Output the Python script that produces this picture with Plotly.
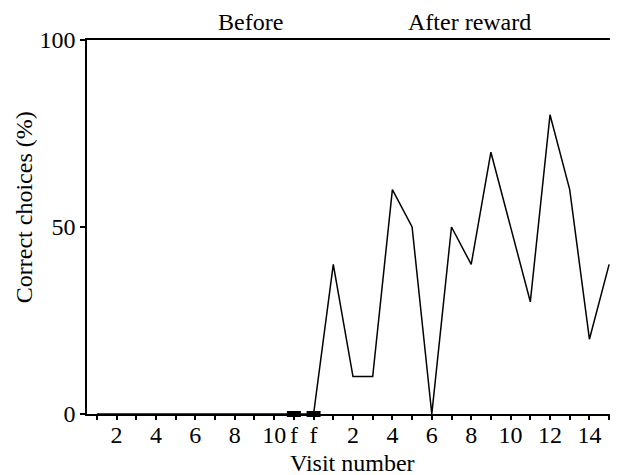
import plotly.graph_objects as go

# ---- data ----
tick_labels = ["", "2", "", "4", "", "6", "", "8", "", "10",
               "f", "f",
               "", "2", "", "4", "", "6", "", "8", "", "10", "", "12", "", "14", ""]
before_values = [0, 0, 0, 0, 0, 0, 0, 0, 0, 0]
f_values = [0, 0]
after_values = [40, 10, 10, 60, 50, 0, 50, 40, 70, 50, 30, 80, 60, 20, 40]

all_values = before_values + f_values + after_values
positions = list(range(1, len(all_values) + 1))
f_positions = positions[len(before_values):len(before_values) + len(f_values)]

FONT = "Liberation Serif, Times New Roman, serif"
FS = 24

fig = go.Figure()
fig.add_trace(go.Scatter(
    x=positions, y=all_values, mode="lines",
    line=dict(color="black", width=1.5),
    showlegend=False, hoverinfo="skip", cliponaxis=False,
))
fig.add_trace(go.Scatter(
    x=f_positions, y=f_values, mode="markers",
    marker=dict(symbol="line-ew", size=10, color="black",
                line=dict(color="black", width=6)),
    showlegend=False, hoverinfo="skip", cliponaxis=False,
))

# page body has an 8px default margin, so the figure is 8px smaller
fig.update_layout(
    width=610, height=467,
    margin=dict(l=79, r=1, t=32, b=61, autoexpand=False),
    paper_bgcolor="white", plot_bgcolor="white",
    font=dict(family=FONT, size=FS, color="black"),
    xaxis=dict(
        range=[0.5, 27.4], automargin=False,
        tickmode="array", tickvals=positions, ticktext=tick_labels,
        ticks="outside", ticklen=4, tickwidth=1.5, tickcolor="black",
        ticklabelstandoff=-6,
        showline=True, linecolor="black", linewidth=1.5, mirror=True,
        showgrid=False, zeroline=False,
        tickfont=dict(family=FONT, size=FS, color="black"),
    ),
    yaxis=dict(
        range=[0, 100], automargin=False,
        tickmode="array", tickvals=[0, 50, 100], ticktext=["0", "50", "100"],
        ticks="outside", ticklen=5, tickwidth=1.5, tickcolor="black",
        showline=True, linecolor="black", linewidth=1.5, mirror=False,
        showgrid=False, zeroline=False,
        tickfont=dict(family=FONT, size=FS, color="black"),
    ),
    shapes=[dict(type="line", xref="paper", yref="paper", x0=1, x1=1, y0=0, y1=1,
                 line=dict(color="#888888", width=1))],
    annotations=[
        dict(text="Before", xref="x", yref="paper", x=8.8, y=1.0, yshift=18,
             xanchor="center", yanchor="middle",
             showarrow=False, font=dict(family=FONT, size=FS, color="black")),
        dict(text="After reward", xref="x", yref="paper", x=19.9, y=1.0, yshift=18,
             xanchor="center", yanchor="middle",
             showarrow=False, font=dict(family=FONT, size=FS, color="black")),
        dict(text="Visit number", xref="paper", yref="paper", x=0.5, y=0,
             yshift=-49, xanchor="center", yanchor="middle",
             showarrow=False, font=dict(family=FONT, size=FS, color="black")),
        dict(text="Correct choices (%)", xref="paper", yref="paper",
             x=0, xshift=-63, y=0.553, xanchor="center", yanchor="middle",
             textangle=-90, showarrow=False,
             font=dict(family=FONT, size=FS, color="black")),
    ],
)

fig.write_html("out.html")
